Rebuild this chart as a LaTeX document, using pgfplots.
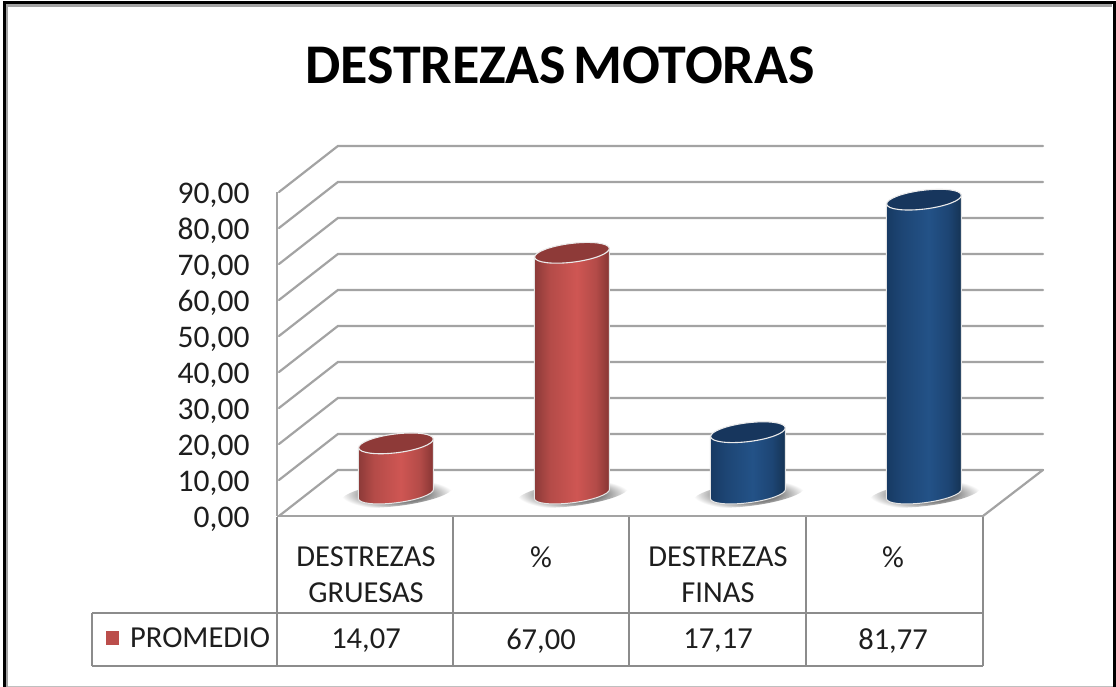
\documentclass[border=0pt]{standalone}
\usepackage{pgfplots}
\pgfplotsset{compat=1.18}
\usepackage{pgfplotstable}
\usepackage{fontspec}
\setmainfont{Carlito}
\definecolor{gridc}{HTML}{A3A3A3}
\definecolor{tablec}{HTML}{8C8C8C}
\definecolor{txt}{HTML}{1E1E1E}
\definecolor{redtop}{HTML}{8E3A38}
\definecolor{bluetop}{HTML}{17365D}
\definecolor{HTMLredA}{HTML}{8C3A38}
\definecolor{HTMLredB}{HTML}{B34B48}
\definecolor{HTMLredC}{HTML}{CF5653}
\definecolor{HTMLredD}{HTML}{863533}
\definecolor{HTMLbluA}{HTML}{173A63}
\definecolor{HTMLbluB}{HTML}{1D4574}
\definecolor{HTMLbluC}{HTML}{235287}
\definecolor{HTMLbluD}{HTML}{153354}
\pgfdeclarehorizontalshading{redcyl}{100bp}{color(0bp)=(HTMLredA);color(25bp)=(HTMLredA);color(35bp)=(HTMLredB);color(53bp)=(HTMLredC);color(66bp)=(HTMLredB);color(75bp)=(HTMLredD);color(100bp)=(HTMLredD)}
\pgfdeclarehorizontalshading{bluecyl}{100bp}{color(0bp)=(HTMLbluA);color(25bp)=(HTMLbluA);color(35bp)=(HTMLbluB);color(53bp)=(HTMLbluC);color(66bp)=(HTMLbluB);color(75bp)=(HTMLbluD);color(100bp)=(HTMLbluD)}
\pgfdeclareradialshading{cylshadow}{\pgfpoint{0bp}{0bp}}{color(0bp)=(black!55);color(13bp)=(black!50);color(25bp)=(white);color(50bp)=(white)}
\pgfdeclareplotmark{nothing}{}
\pgfdeclareplotmark{shadowmk}{\path[draw=none,shade,shading=cylshadow] (1pt,0pt) ellipse [x radius=56pt,y radius=12pt,rotate=7];}
% one cylinder, drawn at its data point; #3 is its value
\newcommand\cylinder[3]{%
 \pgfmathsetmacro\hh{3.6*#3}%
 \path[shade,shading=#1,draw=white!90!black,line width=1pt]
   (-37.5pt,-4.6pt) -- (-37.5pt,{(-\hh-4.6)*1pt})
   .. controls (-37.5pt,{(-\hh-9.46)*1pt}) and (-20.71pt,{(-\hh-11.34)*1pt}) .. (0pt,{(-\hh-8.8)*1pt})
   .. controls (20.71pt,{(-\hh-6.26)*1pt}) and (37.5pt,{(-\hh-0.26)*1pt}) .. (37.5pt,{(-\hh+4.6)*1pt})
   -- (37.5pt,4.6pt) -- cycle;
 \path[fill=#2,draw=white!92!black,line width=1.1pt] (0pt,0pt) ellipse [x radius=37.6pt,y radius=9.4pt,rotate=7];}
\pgfplotstableread{
x y
0 14.07
1 67.00
}\redtable
\pgfplotstableread{
x y
2 17.17
3 81.77
}\bluetable
\newcommand\tfont{\fontsize{31.5}{33}\selectfont}
\begin{document}
\begin{tikzpicture}[x=1pt,y=-1pt]
\path[use as bounding box] (0,0) rectangle (1116,687);
\fill[white] (0,0) rectangle (1116,687);
% frame of the picture
\draw[black!25,line width=1pt] (3,686) -- (1114,686);
\draw[gridc,line width=2.5pt] (7,687) -- (7,5.5) -- (1112,5.5);
\draw[black,line width=3pt] (4.5,687) -- (4.5,3) -- (1114,3) -- (1114,687);
% title
\node[text=black,font=\fontsize{56}{60}\selectfont\bfseries] at (560,65) {DESTREZAS\hspace{7pt}MOTORAS};
% axis with the value scale, walls and floor
\begin{axis}[
  at={(277pt,-516pt)},anchor=south west,
  x=1pt,y=3.6pt,
  xmin=277,xmax=983,ymin=0,ymax=90,
  clip=false,
  axis x line=none,
  axis y line*=left,
  axis line style={draw=gridc,line width=2.2pt,-},
  ytick={0,10,...,90},
  major tick length=0pt,
  yticklabel style={font=\tfont,text=txt,xshift=-24pt,yshift=-3pt},
  /pgf/number format/.cd,fixed,fixed zerofill,precision=2,use comma,assume math mode=true,
]
\pgfplotsinvokeforeach{0,10,...,90}{
  \draw[gridc,line width=2.2pt,line cap=round,line join=round] (axis cs:279,#1) -- (axis cs:338,#1+12.8) -- (axis cs:1043,#1+12.8);
}
\draw[gridc,line width=2.2pt,line cap=round] (axis cs:983,0) -- (axis cs:1043,12.8);
\draw[gridc,line width=2.2pt] (axis cs:277,0) -- (axis cs:983,0);
\end{axis}
% axis with the cylinders
\begin{axis}[
  at={(277pt,-494pt)},anchor=south west,
  x=176pt,y=3.6pt,
  xmin=-0.676,xmax=3.335,ymin=0,ymax=90,
  clip=false,hide axis,
]
\addplot[only marks,mark=shadowmk] coordinates {(0,0) (1,0) (2,0) (3,0)};
\addplot[scatter,only marks,mark=nothing,point meta=y,
  visualization depends on={y \as \cylv},
  scatter/@pre marker code/.code={\cylinder{redcyl}{redtop}{\cylv}},
  scatter/@post marker code/.code={}] table[x=x,y=y] {\redtable};
\addplot[scatter,only marks,mark=nothing,point meta=y,
  visualization depends on={y \as \cylv},
  scatter/@pre marker code/.code={\cylinder{bluecyl}{bluetop}{\cylv}},
  scatter/@post marker code/.code={}] table[x=x,y=y] {\bluetable};
\end{axis}
% data table
\draw[tablec,line width=2pt,line join=round] (277,517)--(277,666) (453,517)--(453,666) (629,517)--(629,666) (806,517)--(806,666) (983,517)--(983,666)
  (92,613)--(983,613) (92,666)--(983,666) (92,613)--(92,666);
\fill[HTMLredB!70!HTMLredC] (106,631) rectangle (119,645);
\tikzset{tb/.style={text=txt,font=\fontsize{30.5}{32}\selectfont,inner sep=0pt}}
\node[tb,anchor=west] at (130,638) {PROMEDIO};
\node[tb] at (366,557) {DESTREZAS};
\node[tb] at (366,593) {GRUESAS};
\node[tb] at (541,557) {\%};
\node[tb] at (718,557) {DESTREZAS};
\node[tb] at (718,593) {FINAS};
\node[tb] at (893,557) {\%};
\node[tb] at (366,641) {14,07};
\node[tb] at (541,641) {67,00};
\node[tb] at (718,641) {17,17};
\node[tb] at (893,641) {81,77};
\end{tikzpicture}
\end{document}
